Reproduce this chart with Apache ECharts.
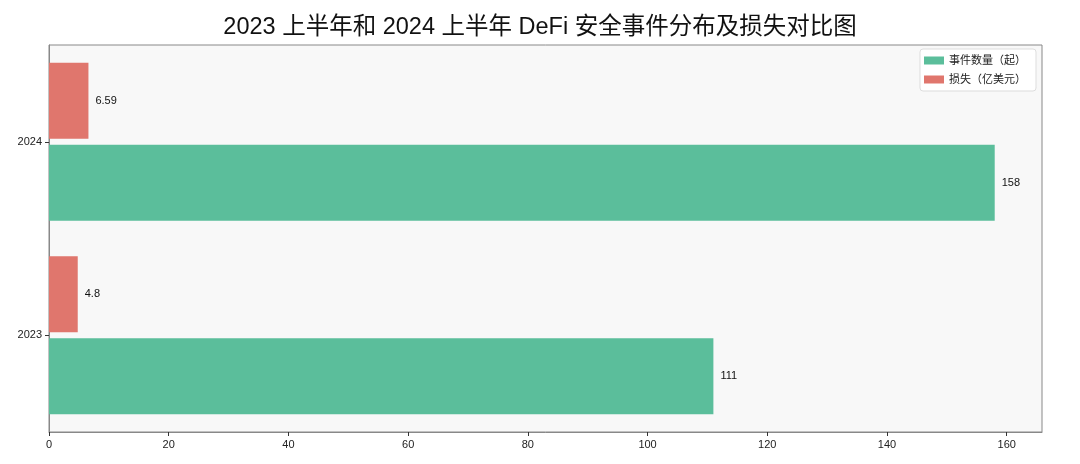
<!DOCTYPE html>
<html><head><meta charset="utf-8">
<script src="https://cdn.jsdelivr.net/npm/echarts@6/dist/echarts.min.js"></script>
<style>html,body{margin:0;padding:0;background:#fff}#c{width:1080px;height:464px}</style>
</head><body><div id="c"></div>
<script>
const categories = ['2023', '2024'];
const eventCounts = [111, 158];
const losses = [4.8, 6.59];
const seriesNames = ['事件数量（起）', '损失（亿美元）'];
const xTicks = [0, 20, 40, 60, 80, 100, 120, 140, 160];

const FONT = 'Arial, "Liberation Sans", "Noto Sans CJK SC", sans-serif';
const chart = echarts.init(document.getElementById('c'));
chart.setOption({
  backgroundColor: '#ffffff',
  animation: false,
  textStyle: { fontFamily: FONT },
  title: {
    text: '2023 上半年和 2024 上半年 DeFi 安全事件分布及损失对比图',
    left: 'center', top: 11,
    textStyle: { fontSize: 23.5, fontWeight: 'normal', color: '#111', fontFamily: FONT }
  },
  legend: {
    orient: 'vertical', right: 44, top: 49,
    data: seriesNames,
    itemWidth: 20, itemHeight: 8, itemGap: 8,
    backgroundColor: '#fff', borderColor: '#dddddd', borderWidth: 1, borderRadius: 3,
    padding: [6, 10, 6, 4],
    textStyle: { fontSize: 11, color: '#222', fontFamily: FONT },
    icon: 'rect'
  },
  grid: { left: 49, right: 38, top: 45, bottom: 32, show: true, backgroundColor: '#f8f8f8', borderColor: '#888', borderWidth: 1 },
  xAxis: {
    type: 'value', min: 0, max: 165.9, interval: 20,
    axisLine: { show: true, lineStyle: { color: '#888' } },
    axisTick: { show: true, length: 4, lineStyle: { color: '#333' } },
    axisLabel: { color: '#222', fontSize: 11, showMaxLabel: false, margin: 7,
      formatter: v => xTicks.includes(v) ? String(v) : '' },
    splitLine: { show: false }
  },
  yAxis: {
    type: 'category', data: categories,
    axisLine: { show: true, lineStyle: { color: '#888' } },
    axisTick: { show: true, alignWithLabel: true, length: 4, lineStyle: { color: '#333' } },
    axisLabel: { color: '#222', fontSize: 11, margin: 7 }
  },
  series: [
    {
      name: seriesNames[1], type: 'bar', data: losses,
      barWidth: 76, barGap: '8%',
      itemStyle: { color: '#e0766d' },
      label: { show: true, position: 'right', distance: 7, color: '#111', fontSize: 11 }
    },
    {
      name: seriesNames[0], type: 'bar', data: eventCounts,
      barWidth: 76, barGap: '8%',
      itemStyle: { color: '#5bbe9b' },
      label: { show: true, position: 'right', distance: 7, color: '#111', fontSize: 11 }
    }
  ]
});
</script></body></html>
